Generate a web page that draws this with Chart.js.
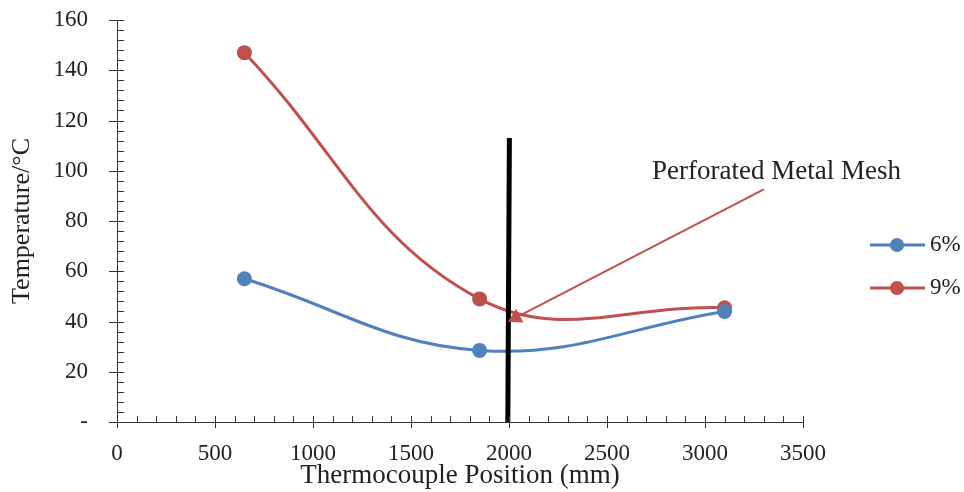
<!DOCTYPE html>
<html>
<head>
<meta charset="utf-8">
<title>Thermocouple temperatures</title>
<script src="https://cdn.jsdelivr.net/npm/chart.js@4.4.1/dist/chart.umd.min.js"></script>
<style>
  html, body { margin: 0; padding: 0; background: #fff; }
  #wrap { width: 964px; height: 492px; position: relative; }
</style>
</head>
<body>
<div id="wrap"><canvas id="tempChart"></canvas></div>
<script>
// Thermocouple positions (mm) and measured temperatures (°C)
const positions = [650, 1850, 3100];
const temp6 = [57, 28.5, 44];
const temp9 = [147, 49, 45.5];
const seriesLabels = ['6%', '9%'];
const seriesColors = ['#4F81BD', '#C0504D'];

// Metal mesh marker line and its callout arrow
const meshX = [1994, 2002];
const meshY = [0, 113];
const arrowX = [3300, 2035];
const arrowY = [92.6, 41.5];
const noteText = 'Perforated Metal Mesh';
const noteX = 2730;
const noteY = 99.5;

// Axis ranges and ticks
const xMin = 0, xMax = 3500, xStep = 500, xMinor = 100;
const yMin = 0, yMax = 160, yStep = 20, yMinor = 4;

const serif = "'Liberation Serif', 'Times New Roman', serif";
const textColor = '#222';
const axisColor = '#333';

const toPoints = (xs, ys) => xs.map((x, i) => ({ x: x, y: ys[i] }));

// tick marks: major ticks cross the axis, minor ticks sit inside the plot
const tickMarks = {
    id: 'tickMarks',
    afterDraw(chart) {
        const { ctx, scales: { x, y }, chartArea } = chart;
        ctx.save();
        ctx.strokeStyle = axisColor;
        ctx.lineWidth = 1;
        ctx.beginPath();
        for (let v = xMin; v <= xMax; v += xMinor) {
            const px = Math.round(x.getPixelForValue(v)) + 0.5;
            const major = v % xStep === 0;
            ctx.moveTo(px, chartArea.bottom - 6);
            ctx.lineTo(px, chartArea.bottom + (major ? 6 : 0));
        }
        for (let v = yMin; v <= yMax; v += yMinor) {
            const py = Math.round(y.getPixelForValue(v)) + 0.5;
            const major = v % yStep === 0;
            ctx.moveTo(chartArea.left + 7, py);
            ctx.lineTo(chartArea.left - (major ? 8 : 0), py);
        }
        ctx.stroke();
        ctx.restore();
    }
};

// callout text next to the arrow
const noteLabel = {
    id: 'noteLabel',
    afterDatasetsDraw(chart) {
        const { ctx, scales: { x, y } } = chart;
        ctx.save();
        ctx.font = '27px ' + serif;
        ctx.fillStyle = textColor;
        ctx.textAlign = 'left';
        ctx.textBaseline = 'middle';
        ctx.fillText(noteText, x.getPixelForValue(noteX), y.getPixelForValue(noteY));
        ctx.restore();
    }
};

// legend on the right: line with a round marker, then the label
const sideLegend = {
    id: 'sideLegend',
    afterDraw(chart) {
        const { ctx } = chart;
        ctx.save();
        seriesLabels.forEach((label, i) => {
            const cy = 245 + i * 43;
            ctx.strokeStyle = seriesColors[i];
            ctx.lineWidth = 3;
            ctx.beginPath();
            ctx.moveTo(870, cy);
            ctx.lineTo(925, cy);
            ctx.stroke();
            ctx.fillStyle = seriesColors[i];
            ctx.beginPath();
            ctx.arc(897, cy, 7, 0, Math.PI * 2);
            ctx.fill();
            ctx.fillStyle = textColor;
            ctx.font = '23px ' + serif;
            ctx.textBaseline = 'middle';
            ctx.fillText(label, 930, cy);
        });
        ctx.restore();
    }
};

new Chart(document.getElementById('tempChart'), {
    type: 'scatter',
    data: {
        datasets: [
            {
                label: seriesLabels[0],
                data: toPoints(positions, temp6),
                showLine: true,
                tension: 0.4,
                borderColor: seriesColors[0],
                backgroundColor: seriesColors[0],
                borderWidth: 3,
                pointRadius: 7.5,
                pointBorderWidth: 0,
                order: 3
            },
            {
                label: seriesLabels[1],
                data: toPoints(positions, temp9),
                showLine: true,
                tension: 0.4,
                borderColor: seriesColors[1],
                backgroundColor: seriesColors[1],
                borderWidth: 3,
                pointRadius: 7.5,
                pointBorderWidth: 0,
                order: 3
            },
            {
                label: 'mesh',
                data: toPoints(meshX, meshY),
                showLine: true,
                tension: 0,
                borderColor: '#000',
                borderWidth: 5,
                pointRadius: 0,
                order: 2
            },
            {
                label: 'arrow',
                data: toPoints(arrowX, arrowY),
                showLine: true,
                tension: 0,
                borderColor: seriesColors[1],
                backgroundColor: seriesColors[1],
                borderWidth: 2,
                pointStyle: 'triangle',
                pointRadius: [0, 9],
                pointRotation: [0, 242],
                pointBorderWidth: 0,
                order: 1
            }
        ]
    },
    options: {
        responsive: true,
        maintainAspectRatio: false,
        animation: false,
        layout: { padding: { top: 20, right: 161, left: 0, bottom: 0 } },
        plugins: {
            legend: { display: false },
            tooltip: { enabled: false }
        },
        scales: {
            x: {
                type: 'linear',
                min: xMin,
                max: xMax,
                afterFit: s => {
                    s.height = 70;
                    s.paddingLeft = 0;
                    s.paddingRight = 0;
                },
                ticks: {
                    stepSize: xStep,
                    padding: 18,
                    color: textColor,
                    font: { family: serif, size: 23 },
                    maxRotation: 0,
                    callback: v => String(v)
                },
                grid: { display: false, drawTicks: false },
                border: { display: true, color: axisColor, width: 1 },
                title: {
                    display: true,
                    text: 'Thermocouple Position (mm)',
                    color: textColor,
                    font: { family: serif, size: 27 },
                    padding: { top: 0, bottom: 0 }
                }
            },
            y: {
                type: 'linear',
                min: yMin,
                max: yMax,
                afterFit: s => {
                    s.width = 117;
                    s.paddingTop = 0;
                    s.paddingBottom = 0;
                },
                ticks: {
                    stepSize: yStep,
                    padding: 29,
                    color: textColor,
                    font: { family: serif, size: 23 },
                    callback: v => (v === 0 ? '-' : String(v))
                },
                grid: { display: false, drawTicks: false },
                border: { display: true, color: axisColor, width: 1 },
                title: {
                    display: true,
                    text: 'Temperature/°C',
                    color: textColor,
                    font: { family: serif, size: 26 },
                    padding: { top: 7, bottom: 0 }
                }
            }
        }
    },
    plugins: [tickMarks, noteLabel, sideLegend]
});
</script>
</body>
</html>
